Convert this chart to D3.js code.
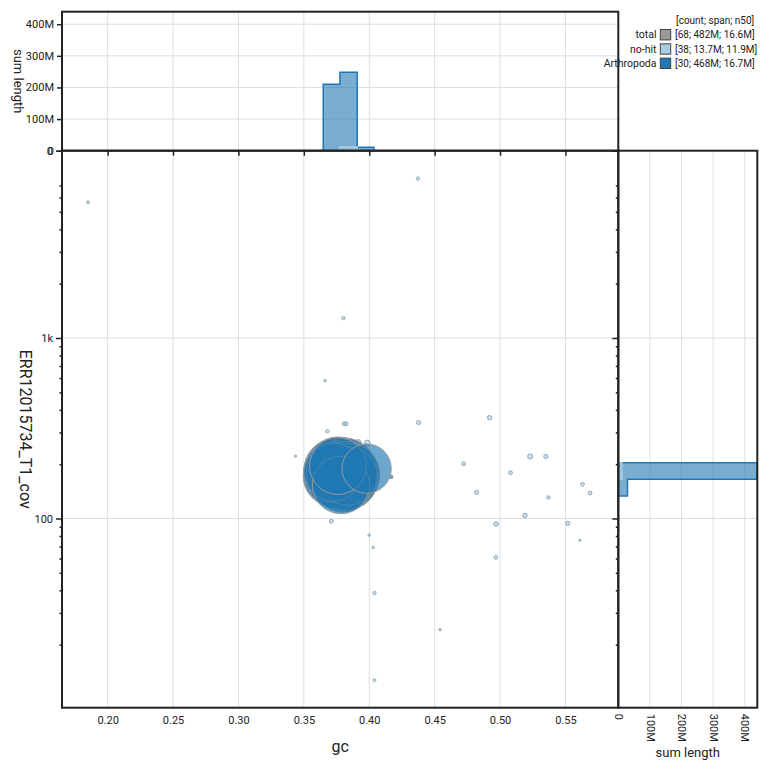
<!DOCTYPE html>
<html><head><meta charset="utf-8">
<script src="https://cdn.jsdelivr.net/npm/d3@7"></script>
<style>
body{margin:0;background:#fff;}
svg{font-family:Roboto,"Noto Sans",sans-serif;}
</style></head><body>
<svg id="chart" width="770" height="770"></svg>
<script>
// ---------- data ----------
const categories = ["total", "no-hit", "Arthropoda"];
const categoryColors = ["#999999", "#a6cee3", "#1f78b4"];
const legendStats = ["[68; 482M; 16.6M]", "[38; 13.7M; 11.9M]", "[30; 468M; 16.7M]"];
const legendHeader = "[count; span; n50]";

// Arthropoda contigs
const arthGc  = [0.3753,0.3761,0.3745,0.3768,0.3738,0.3761,0.3730,0.3753,0.3768,0.3745,0.3722,0.3761,0.3772,
                 0.3791,0.3807,0.3784,0.3822,0.3799,0.3837,0.3784,0.3814,0.3829,0.3799,0.3829,0.3837,0.3784,0.3845,0.3814,
                 0.3980,0.4167];
const arthCov = [181.0,174.2,185.6,169.8,176.4,190.4,172.0,167.6,183.3,178.7,181.0,195.4,176.4,
                 176.4,172.0,185.6,167.6,181.0,174.2,169.8,188.0,165.5,159.3,183.3,172.0,153.3,178.7,174.2,
                 189.0,170.0];
const arthLen = [18.5e6,17.6e6,17.0e6,16.8e6,16.5e6,16.2e6,15.9e6,15.6e6,15.2e6,14.8e6,14.3e6,13.6e6,18.0e6,
                 19.2e6,18.6e6,17.9e6,17.4e6,17.1e6,16.7e6,16.4e6,16.0e6,15.7e6,15.3e6,14.9e6,14.4e6,13.8e6,14.6e6,20.0e6,
                 10.2e6,61e3];

// no-hit contigs
const nohitGc  = [0.381,0.185,0.4372,0.3803,0.3662,0.3808,0.3823,0.368,0.4377,0.3915,0.3985,0.3436,0.371,0.400,0.403,
                  0.404,0.404,0.379,0.492,0.4721,0.523,0.535,0.508,0.482,0.563,0.5688,0.537,0.519,0.497,0.5518,
                  0.561,0.4968,0.4541,0.375,0.378,0.380,0.377,0.383];
const nohitCov = [178,5650,7640,1291,580,335,335,304,340,264,262,221.5,96.6,80.9,69,
                  38.7,12.7,172,362,201,220.6,220.6,179.4,139.6,154.6,138.4,130.8,104,93.2,94,
                  75.8,60.9,24.2,180,175,185,170,178];
const nohitLen = [11.5e6,35e3,44e3,44e3,26e3,61e3,61e3,50e3,74e3,138e3,138e3,22e3,61e3,26e3,26e3,
                  44e3,35e3,61e3,81e3,61e3,112e3,74e3,61e3,74e3,61e3,61e3,50e3,88e3,88e3,74e3,
                  22e3,61e3,26e3,50e3,60e3,40e3,55e3,45e3];

// axes
const gcDomain = [0.1651, 0.5904];
const covDomain = [8.95, 10906];
const gcTicks = [0.20,0.25,0.30,0.35,0.40,0.45,0.50,0.55];
const gcTickLabels = ["0.20","0.25","0.30","0.35","0.40","0.45","0.50","0.55"];
const covMajorTicks = [100, 1000, 10906];
const covMajorLabels = ["100", "1k", "0"];
const covMinorTicks = [20,30,40,50,60,70,80,90,200,300,400,500,600,700,800,900,2000,3000,4000,5000,6000,7000];
const lenTicks = [0, 100e6, 200e6, 300e6, 400e6];
const lenTickLabels = ["0", "100M", "200M", "300M", "400M"];

// histograms (sum length per bin)
const gcBinEdges = [0.3648, 0.3776, 0.3908, 0.4036];
const gcHistArth = [210e6, 248e6, 10.7e6];
const gcHistNoHit = [0, 12e6, 0.3e6];
const covBinEdges = [133.3, 164.9, 203.6];
const covHistArth = [29.1e6, 439.6e6];
const covHistNoHit = [0.1e6, 11.7e6];

// ---------- layout ----------
const mainL = 62, mainR = 618.3, mainT = 150.7, mainB = 707.7, topT = 11.7, rightR = 757.3;
const frameColor = "#222";
const gridColor = "#dedede";

const svg = d3.select("#chart");
const x = d3.scaleLinear().domain(gcDomain).range([mainL, mainR]);
const y = d3.scaleLog().domain(covDomain).range([mainB, mainT]);
const r = d3.scaleSqrt().domain([0, 20e6]).range([0, 34.5]);
const histMax = d3.max([...gcHistArth, ...covHistArth]);
const hy = d3.scaleLinear().domain([0, histMax]).range([mainT, topT]);
const hx = d3.scaleLinear().domain([0, histMax]).range([mainR, rightR]);

// ---------- gridlines ----------
const grid = svg.append("g").attr("stroke", gridColor).attr("stroke-width", 1);
gcTicks.forEach(t => grid.append("line").attr("x1", x(t)).attr("x2", x(t)).attr("y1", topT).attr("y2", mainB));
[100, 1000].forEach(t => grid.append("line").attr("x1", mainL).attr("x2", rightR).attr("y1", y(t)).attr("y2", y(t)));
lenTicks.slice(1).forEach(t => {
  grid.append("line").attr("x1", mainL).attr("x2", mainR).attr("y1", hy(t)).attr("y2", hy(t));
  grid.append("line").attr("x1", hx(t)).attr("x2", hx(t)).attr("y1", mainT).attr("y2", mainB);
});

// ---------- histograms ----------
svg.append("clipPath").attr("id", "clipTop").append("rect")
  .attr("x", mainL).attr("y", topT).attr("width", mainR - mainL).attr("height", mainT - topT);
svg.append("clipPath").attr("id", "clipRight").append("rect")
  .attr("x", mainR).attr("y", mainT).attr("width", rightR - mainR).attr("height", mainB - mainT);

function topPath(edges, vals) {
  const p = d3.path();
  p.moveTo(x(edges[0]), hy(0));
  vals.forEach((v, i) => { p.lineTo(x(edges[i]), hy(v)); p.lineTo(x(edges[i + 1]), hy(v)); });
  p.lineTo(x(edges[edges.length - 1]), hy(0));
  p.closePath();
  return p.toString();
}
function rightPath(edges, vals) {
  const p = d3.path();
  p.moveTo(hx(0), y(edges[0]));
  vals.forEach((v, i) => { p.lineTo(hx(v), y(edges[i])); p.lineTo(hx(v), y(edges[i + 1])); });
  p.lineTo(hx(0), y(edges[edges.length - 1]));
  p.closePath();
  return p.toString();
}
const gTop = svg.append("g").attr("clip-path", "url(#clipTop)");
gTop.append("path").attr("d", topPath(gcBinEdges, gcHistArth))
  .attr("fill", categoryColors[2]).attr("fill-opacity", 0.6).attr("stroke", categoryColors[2]).attr("stroke-width", 1.5);
gTop.append("path").attr("d", topPath(gcBinEdges, gcHistNoHit))
  .attr("fill", categoryColors[1]).attr("fill-opacity", 0.6).attr("stroke", categoryColors[1]).attr("stroke-width", 1.5);
const gRight = svg.append("g").attr("clip-path", "url(#clipRight)");
gRight.append("path").attr("d", rightPath(covBinEdges, covHistArth))
  .attr("fill", categoryColors[2]).attr("fill-opacity", 0.6).attr("stroke", categoryColors[2]).attr("stroke-width", 1.5);
gRight.append("path").attr("d", rightPath(covBinEdges, covHistNoHit))
  .attr("fill", categoryColors[1]).attr("fill-opacity", 0.6).attr("stroke", categoryColors[1]).attr("stroke-width", 1.5);

// ---------- scatter ----------
svg.append("clipPath").attr("id", "clipMain").append("rect")
  .attr("x", mainL).attr("y", mainT).attr("width", mainR - mainL).attr("height", mainB - mainT);
const gMain = svg.append("g").attr("clip-path", "url(#clipMain)");
function drawCat(gcs, covs, lens, color, stroke) {
  const pts = gcs.map((g, i) => ({ gc: g, cov: covs[i], len: lens[i] }))
    .sort((a, b) => b.len - a.len);
  gMain.append("g").selectAll("circle").data(pts).join("circle")
    .attr("cx", d => x(d.gc)).attr("cy", d => y(d.cov)).attr("r", d => r(d.len))
    .attr("fill", color).attr("fill-opacity", 0.65)
    .attr("stroke", stroke).attr("stroke-width", 1);
}
drawCat(nohitGc, nohitCov, nohitLen, categoryColors[1], "#93a9b8");
drawCat(arthGc, arthCov, arthLen, categoryColors[2], "#9a9a9a");

// ---------- axes ----------
const fontSize = 11;
function styleAxis(g) {
  g.select(".domain").remove();
  g.selectAll(".tick line").attr("stroke", frameColor).attr("stroke-width", 1.5);
  g.selectAll(".tick text").attr("fill", "#222").attr("font-size", fontSize).attr("font-family", "Roboto");
}
svg.append("g").attr("transform", `translate(${mainL},0)`)
  .call(d3.axisLeft(hy).tickValues(lenTicks).tickFormat((d, i) => lenTickLabels[i]).tickSize(5).tickPadding(3))
  .call(styleAxis);
svg.append("g").attr("transform", `translate(0,${mainT})`)
  .call(d3.axisBottom(x).tickValues(gcTicks).tickFormat("").tickSize(5))
  .call(styleAxis);
svg.append("g").attr("transform", `translate(0,${mainB})`)
  .call(d3.axisBottom(x).tickValues(gcTicks).tickFormat((d, i) => gcTickLabels[i]).tickSize(0).tickPadding(9))
  .call(styleAxis);
svg.append("g").attr("transform", `translate(${mainL},0)`)
  .call(d3.axisLeft(y).tickValues(covMinorTicks).tickFormat("").tickSize(2.5))
  .call(styleAxis);
svg.append("g").attr("transform", `translate(${mainL},0)`)
  .call(d3.axisLeft(y).tickValues(covMajorTicks).tickFormat((d, i) => covMajorLabels[i]).tickSize(6).tickPadding(3))
  .call(styleAxis);
svg.append("g").attr("transform", `translate(${mainR},0)`)
  .call(d3.axisLeft(y).tickValues(covMinorTicks).tickFormat("").tickSize(2.5))
  .call(styleAxis);
svg.append("g").attr("transform", `translate(${mainR},0)`)
  .call(d3.axisLeft(y).tickValues(covMajorTicks).tickFormat("").tickSize(6))
  .call(styleAxis);
const rb = svg.append("g").attr("transform", `translate(0,${mainB})`)
  .call(d3.axisBottom(hx).tickValues(lenTicks).tickFormat((d, i) => lenTickLabels[i]).tickSize(0))
  .call(styleAxis);
rb.selectAll(".tick text").attr("transform", "rotate(90)").attr("x", 6).attr("y", 0)
  .attr("dy", "0.35em").attr("text-anchor", "start");

// ---------- frames ----------
const frames = svg.append("g").attr("fill", "none").attr("stroke", frameColor).attr("stroke-width", 2);
frames.append("rect").attr("x", mainL).attr("y", topT).attr("width", mainR - mainL).attr("height", mainT - topT);
frames.append("rect").attr("x", mainL).attr("y", mainT).attr("width", mainR - mainL).attr("height", mainB - mainT);
frames.append("rect").attr("x", mainR).attr("y", mainT).attr("width", rightR - mainR).attr("height", mainB - mainT);

// ---------- axis titles ----------
svg.append("text").attr("x", (mainL + mainR) / 2).attr("y", 752).attr("text-anchor", "middle")
  .attr("font-size", 16).attr("fill", "#222").text("gc");
svg.append("text").attr("x", (mainR + rightR) / 2).attr("y", 757).attr("text-anchor", "middle")
  .attr("font-size", 13).attr("fill", "#222").text("sum length");
svg.append("text").attr("transform", `translate(24,${(mainT + mainB) / 2}) rotate(90)`)
  .attr("text-anchor", "middle").attr("dominant-baseline", "middle")
  .attr("font-size", 16).attr("fill", "#222").text("ERR12015734_T1_cov");
svg.append("text").attr("transform", `translate(17,${(topT + mainT) / 2}) rotate(90)`)
  .attr("text-anchor", "middle").attr("dominant-baseline", "middle")
  .attr("font-size", 13).attr("fill", "#222").text("sum length");

// ---------- legend ----------
const lg = svg.append("g");
lg.append("text").attr("x", 676).attr("y", 24).attr("font-size", 10).attr("fill", "#222").text(legendHeader);
categories.forEach((c, i) => {
  const cy = 34.7 + i * 14.3;
  lg.append("text").attr("x", 656.5).attr("y", cy + 3.7).attr("text-anchor", "end")
    .attr("font-size", 10.5).attr("fill", "#222").text(c);
  lg.append("rect").attr("x", 660.3).attr("y", cy - 5.2).attr("width", 10.4).attr("height", 10.4)
    .attr("fill", categoryColors[i]).attr("stroke", "#444").attr("stroke-width", 1);
  lg.append("text").attr("x", 675).attr("y", cy + 3.5).attr("font-size", 10).attr("fill", "#222").text(legendStats[i]);
});
</script>
</body></html>
